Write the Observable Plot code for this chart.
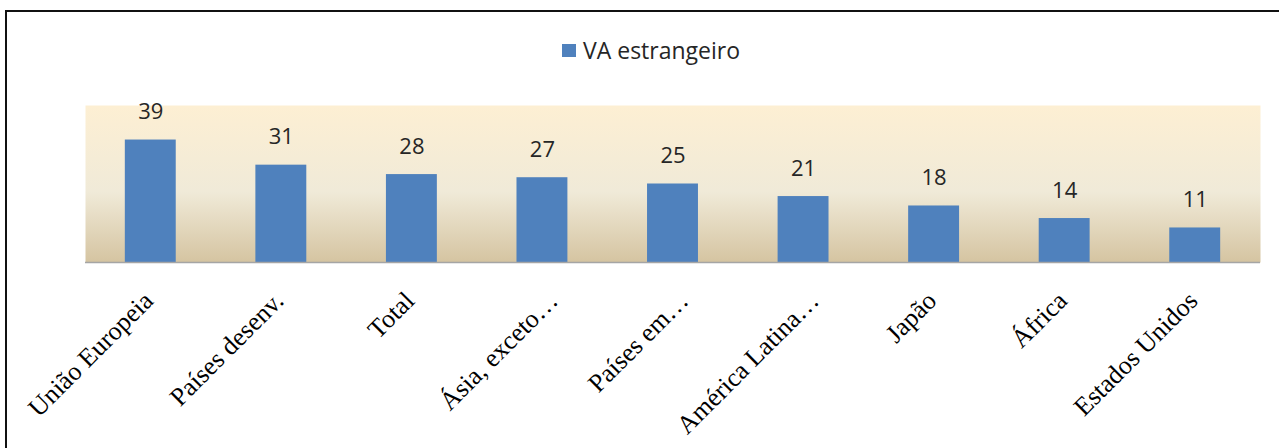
<!DOCTYPE html>
<html>
<head>
<meta charset="utf-8">
<script src="https://cdn.jsdelivr.net/npm/d3@7"></script>
<script src="https://cdn.jsdelivr.net/npm/@observablehq/plot@0.6"></script>
<style>
  html, body { margin: 0; padding: 0; background: #fff; }
  #page { position: relative; width: 1279px; height: 448px; overflow: hidden; background: #fff; }
  #frame { position: absolute; left: 5px; top: 10px; width: 1300px; height: 460px; border: 2px solid #111; box-sizing: border-box; }
  #legend { position: absolute; left: 562px; top: 35px; height: 30px; display: flex; align-items: center; font-family: "Open Sans", sans-serif; font-size: 23px; color: #262626; }
  #legend .sw { width: 14px; height: 13px; background: #4F81BD; margin-right: 7px; }
  #chart { position: absolute; left: 0; top: 0; }
</style>
</head>
<body>
<div id="page">
  <div id="frame"></div>
  <div id="legend"><span class="sw"></span><span>VA estrangeiro</span></div>
  <div id="chart"></div>
</div>
<script>
const categories = ["União Europeia", "Países desenv.", "Total", "Ásia, exceto…", "Países em…", "América Latina…", "Japão", "África", "Estados Unidos"];
const values = [39, 31, 28, 27, 25, 21, 18, 14, 11];
const seriesName = "VA estrangeiro";

const data = categories.map((c, i) => ({category: c, value: values[i]}));
const truncated = categories.filter(c => c.endsWith("…"));
const full = categories.filter(c => !c.endsWith("…"));

const axisOpts = {tickRotate: -45, tickSize: 0, tickPadding: 34, fontSize: 26, fontFamily: "Liberation Serif, Times New Roman, serif", fill: "#000", label: null};

const plot = Plot.plot({
  width: 1279,
  height: 448,
  marginLeft: 85,
  marginRight: 19,
  marginTop: 105,
  marginBottom: 186,
  style: {background: "transparent", overflow: "visible"},
  x: {domain: categories, paddingInner: 0.61, paddingOuter: 0.305, round: false, label: null},
  y: {domain: [0, 50], axis: null},
  marks: [
    Plot.frame({fill: "url(#bgGrad)", stroke: null}),
    Plot.barY(data, {x: "category", y: "value", fill: "#4F81BD"}),
    Plot.ruleY([0], {stroke: "#A5A5A5", strokeWidth: 1.5}),
    Plot.text(data, {x: "category", y: "value", text: d => String(d.value), dy: -28, fontSize: 22, fontFamily: "Open Sans, sans-serif", fill: "#262626"}),
    Plot.axisX({...axisOpts, ticks: full, dx: -2}),
    Plot.axisX({...axisOpts, ticks: truncated, dx: 11})
  ]
});

const svg = d3.select(plot);
const defs = svg.insert("defs", ":first-child");
const grad = defs.append("linearGradient").attr("id", "bgGrad").attr("x1", 0).attr("y1", 0).attr("x2", 0).attr("y2", 1);
grad.append("stop").attr("offset", "0%").attr("stop-color", "#FDEFD3");
grad.append("stop").attr("offset", "55%").attr("stop-color", "#F0EAD8");
grad.append("stop").attr("offset", "100%").attr("stop-color", "#D5C4A1");

document.getElementById("chart").appendChild(plot);
</script>
</body>
</html>
